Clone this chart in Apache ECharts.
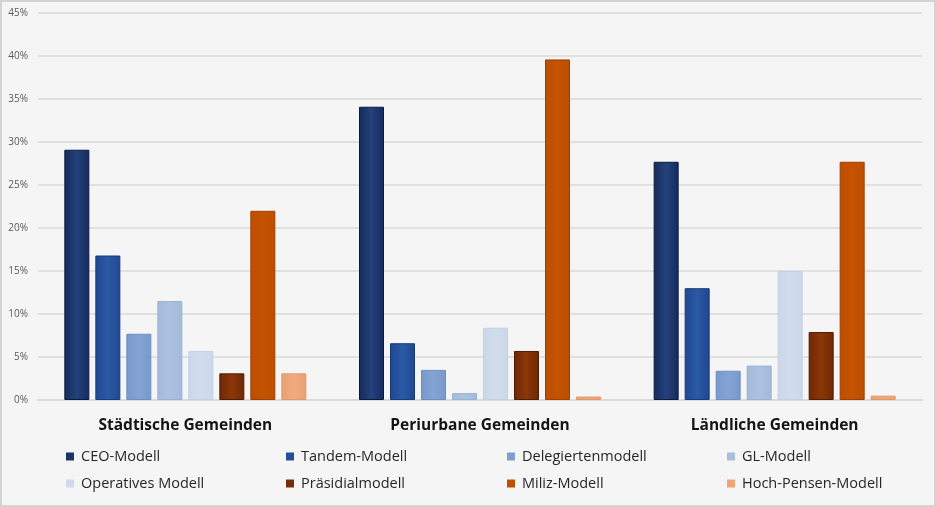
<!DOCTYPE html>
<html>
<head>
<meta charset="utf-8">
<script src="https://cdn.jsdelivr.net/npm/echarts@6/dist/echarts.min.js"></script>
<style>
html,body{margin:0;padding:0;background:#f5f5f5;}
#c{width:936px;height:507px;box-sizing:border-box;border:2px solid #d3d3d3;background:#f5f5f5;}
</style>
</head>
<body>
<div id="c"></div>
<script>
const categories = ['Städtische Gemeinden', 'Periurbane Gemeinden', 'Ländliche Gemeinden'];
const seriesNames = ['CEO-Modell', 'Tandem-Modell', 'Delegiertenmodell', 'GL-Modell', 'Operatives Modell', 'Präsidialmodell', 'Miliz-Modell', 'Hoch-Pensen-Modell'];
const ceo = [29.1, 34.1, 27.7];
const tandem = [16.8, 6.6, 13.0];
const delegierten = [7.7, 3.5, 3.4];
const gl = [11.5, 0.8, 4.0];
const operatives = [5.7, 8.4, 15.0];
const praesidial = [3.1, 5.7, 7.9];
const miliz = [22.0, 39.6, 27.7];
const hochPensen = [3.1, 0.4, 0.5];
const yTicks = [0, 5, 10, 15, 20, 25, 30, 35, 40, 45];

const values = [ceo, tandem, delegierten, gl, operatives, praesidial, miliz, hochPensen];
const styles = [
  {edge:'#142a5c', mid:'#25427c', border:'#0b1a3e', legend:'#1c3567'},
  {edge:'#1f4790', mid:'#2c5aa6', border:'#173a78', legend:'#24509a'},
  {edge:'#7898cb', mid:'#85a4d4', border:'#6f8fc3', legend:'#7f9fcf'},
  {edge:'#a3badb', mid:'#acc2e0', border:'#98b1d6', legend:'#a8bfdd'},
  {edge:'#cbd7e8', mid:'#d2ddec', border:'#c3d1e5', legend:'#cfdaea'},
  {edge:'#6e2805', mid:'#8c3707', border:'#4e1b03', legend:'#7a2e06'},
  {edge:'#bd4d00', mid:'#c45402', border:'#9e3f00', legend:'#c14f00'},
  {edge:'#eaa173', mid:'#efaa7d', border:'#e09868', legend:'#eda578'}
];

const series = seriesNames.map((name, i) => ({
  name: name,
  type: 'bar',
  data: values[i],
  barWidth: 25,
  barGap: '24%',
  itemStyle: {
    color: new echarts.graphic.LinearGradient(0, 0, 1, 0, [
      {offset: 0, color: styles[i].edge},
      {offset: 0.5, color: styles[i].mid},
      {offset: 1, color: styles[i].edge}
    ]),
    borderColor: styles[i].border,
    borderWidth: 1
  }
}));

const legendCols = [[0, 4], [1, 5], [2, 6], [3, 7]];
const legendLeft = [64, 284, 505, 725];
const legends = legendCols.map((col, k) => ({
  orient: 'vertical',
  left: legendLeft[k],
  top: 446,
  padding: 0,
  itemWidth: 8,
  itemHeight: 8,
  itemGap: 10,
  icon: 'rect',
  selectedMode: false,
  data: col.map(i => ({name: seriesNames[i], itemStyle: {color: styles[i].legend, borderWidth: 0}})),
  textStyle: {fontFamily: 'Open Sans', fontSize: 14.5, color: '#262626', lineHeight: 17, padding: [0, 0, 0, 2]}
}));

const chart = echarts.init(document.getElementById('c'));
chart.setOption({
  backgroundColor: '#f5f5f5',
  animation: false,
  color: styles.map(s => s.legend),
  grid: {left: 36, right: 12, top: 11, bottom: 105},
  legend: legends,
  xAxis: {
    type: 'category',
    data: categories,
    axisTick: {show: false},
    axisLine: {lineStyle: {color: '#d6d6d6', width: 1.5}},
    axisLabel: {fontFamily: 'Open Sans', fontWeight: 'bold', fontSize: 15.5, color: '#141414', margin: 18}
  },
  yAxis: {
    type: 'value',
    min: 0,
    max: 45,
    interval: 5,
    axisLine: {show: false},
    axisTick: {show: false},
    splitLine: {lineStyle: {color: '#d9d9d9', width: 1.5}},
    axisLabel: {
      fontFamily: 'Open Sans', fontSize: 10, color: '#595959', margin: 10,
      formatter: v => (yTicks.includes(v) ? v + '%' : '')
    }
  },
  series: series
});
</script>
</body>
</html>
